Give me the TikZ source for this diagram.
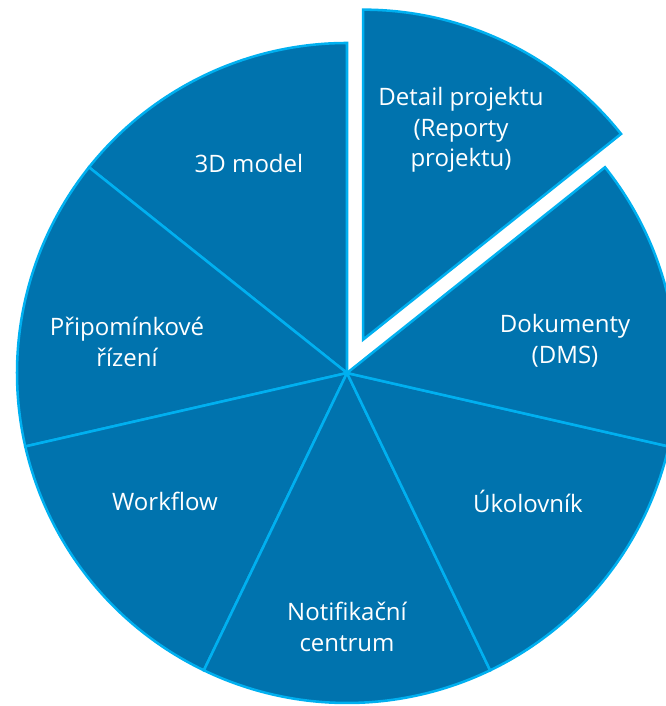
\documentclass[tikz,border=0pt]{standalone}
\usepackage{fontspec}
\setmainfont{Open Sans}
\usetikzlibrary{positioning}

\definecolor{piefill}{RGB}{0,115,174}
\definecolor{pieline}{RGB}{0,176,240}

\tikzset{
  slice/.style={draw=pieline, fill=piefill, line width=1.9pt},
  lbl/.style={text=white, align=center, inner sep=0pt,
    font=\fontsize{18}{23}\selectfont}
}

\begin{document}
\begin{tikzpicture}[x=0.75pt,y=0.75pt]
            \useasboundingbox (-347,-333) rectangle (319,373);
            \coordinate (c) at (0,0);
            \coordinate (cx) at (64.29:37);
            % regular slices
            \draw [slice] (c) -- (90:330) arc [start angle=90, end angle=141.43, radius=330] -- cycle;
            \draw [slice] (c) -- (141.43:330) arc [start angle=141.43, end angle=192.86, radius=330] -- cycle;
            \draw [slice] (c) -- (192.86:330) arc [start angle=192.86, end angle=244.29, radius=330] -- cycle;
            \draw [slice] (c) -- (244.29:330) arc [start angle=244.29, end angle=295.71, radius=330] -- cycle;
            \draw [slice] (c) -- (295.71:330) arc [start angle=295.71, end angle=347.14, radius=330] -- cycle;
            \draw [slice] (c) -- (347.14:330) arc [start angle=347.14, end angle=398.57, radius=330] -- cycle;
            % pulled out slice
            \draw [slice] (cx) -- ++(38.57:330) arc [start angle=38.57, end angle=90, radius=330] -- cycle;
            % labels
            \node [lbl] (detail) at (114,243) {Detail projektu\\(Reporty\\projektu)};
            \node [lbl] (dms) at (218,32) {Dokumenty\\(DMS)};
            \node [lbl] (ukoly) at (181,-128) {Úkolovník};
            \node [lbl] (notif) at (0,-254) {Notifikační\\centrum};
            \node [lbl] (workflow) at (-182,-128) {Workflow};
            \node [lbl] (pripom) at (-220,31) {Připomínkové\\řízení};
            \node [lbl] (model) at (-98,209) {3D model};
\end{tikzpicture}
\end{document}
